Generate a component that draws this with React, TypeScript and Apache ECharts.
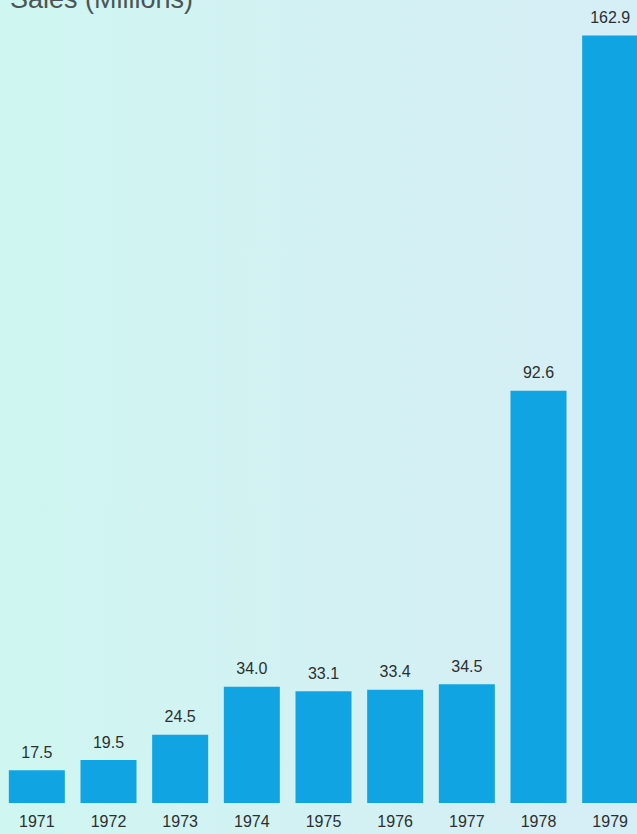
import React, { useEffect, useRef } from "react";
import * as echarts from "echarts";

const years = ["1971", "1972", "1973", "1974", "1975", "1976", "1977", "1978", "1979"];
const sales = [17.5, 19.5, 24.5, 34.0, 33.1, 33.4, 34.5, 92.6, 162.9];
const titleText = "Sales (Millions)";

export default function App() {
  const ref = useRef<HTMLDivElement>(null);
  useEffect(() => {
    if (!ref.current) return;
    const chart = echarts.init(ref.current, null, { renderer: "svg" });
    chart.setOption({
      animation: false,
      backgroundColor: "transparent",
      textStyle: { fontFamily: "Liberation Sans, Arial, sans-serif" },
      graphic: [
        {
          type: "text",
          left: 10,
          top: -15,
          style: {
            text: titleText,
            fontSize: 27,
            fontFamily: "Liberation Sans, Arial, sans-serif",
            fill: "#4a5556",
          },
        },
      ],
      grid: { left: 1, top: 35, right: 0, bottom: 31, containLabel: false },
      xAxis: {
        type: "category",
        data: years,
        axisLine: { show: false },
        axisTick: { show: false },
        axisLabel: {
          color: "#2b2f30",
          fontSize: 16,
          margin: 10,
          interval: 0,
        },
      },
      yAxis: {
        type: "value",
        min: 11,
        max: 163,
        show: false,
        splitLine: { show: false },
      },
      series: [
        {
          type: "bar",
          data: sales,
          barWidth: 56,
          clip: true,
          itemStyle: { color: "#10a5e2" },
          label: {
            show: true,
            position: "top",
            distance: 10,
            color: "#2b2f30",
            fontSize: 16,
            formatter: (p: any) => Number(p.value).toFixed(1),
          },
        },
      ],
    });
    return () => chart.dispose();
  }, []);
  return (
    <div
      style={{
        position: "fixed",
        left: 0,
        top: 0,
        width: 637,
        height: 834,
        overflow: "hidden",
        background: "linear-gradient(90deg, #cff6f1 0%, #d3f1f3 50%, #d6eef6 100%)",
      }}
    >
      <div ref={ref} style={{ width: 646, height: 834 }} />
    </div>
  );
}
